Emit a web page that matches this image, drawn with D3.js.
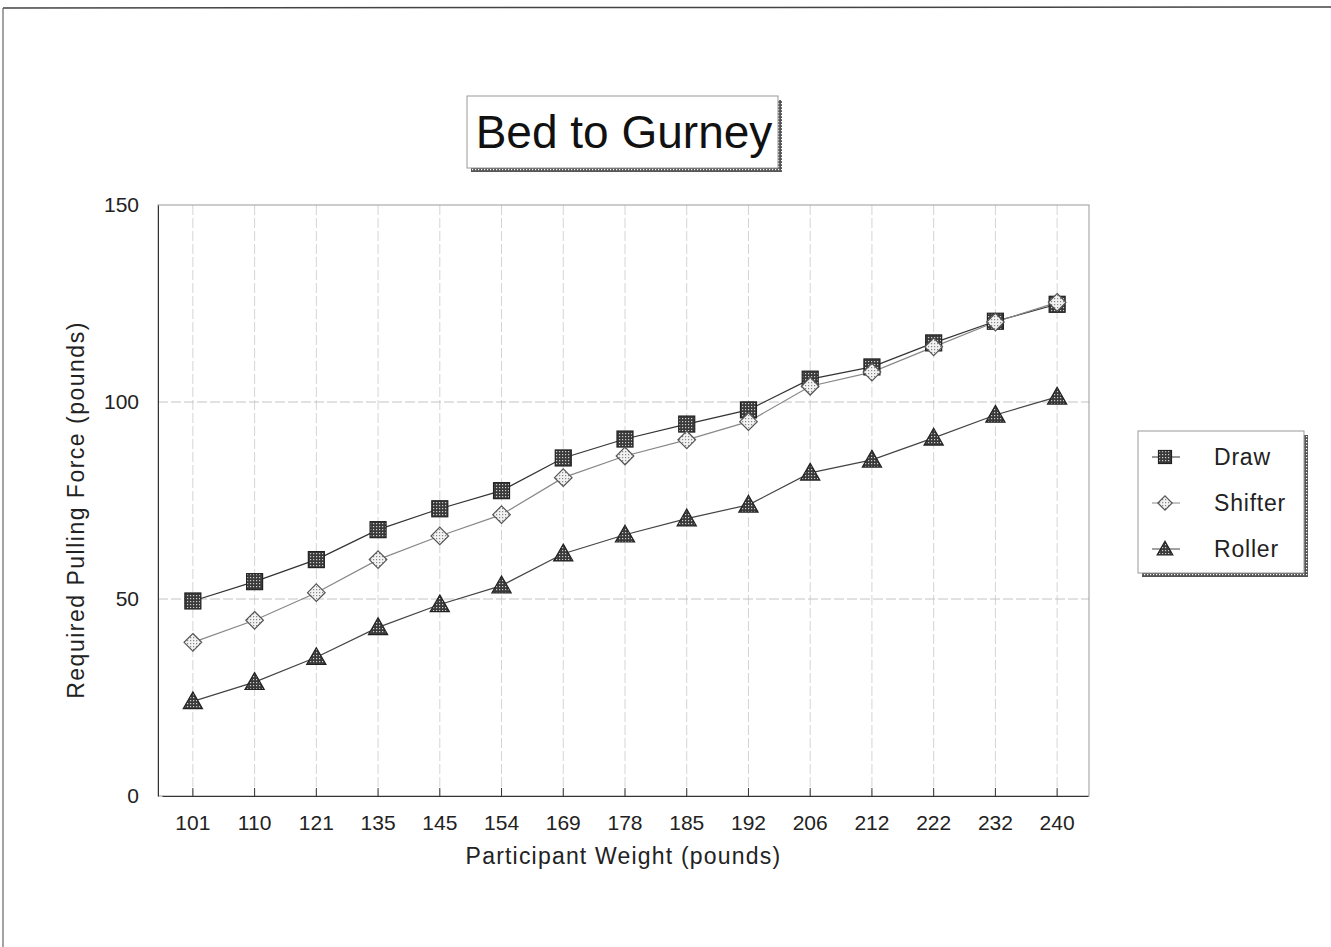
<!DOCTYPE html>
<html><head><meta charset="utf-8">
<script src="https://cdn.jsdelivr.net/npm/d3@7"></script>
<style>body{margin:0;background:#fff}svg{display:block}text{font-family:Arial,"Liberation Sans",sans-serif}</style>
</head><body>
<script>
const categories = ["101","110","121","135","145","154","169","178","185","192","206","212","222","232","240"];
const draw    = [49.5,54.4,60,67.6,72.9,77.5,85.8,90.6,94.4,98,105.8,108.9,115,120.5,124.8];
const shifter = [39,44.6,51.6,60,66,71.4,80.8,86.3,90.4,95,104,107.6,114,120.3,125.3];
const roller  = [24,28.9,35.2,42.8,48.6,53.4,61.5,66.3,70.4,73.9,82,85.3,90.9,96.7,101.3];
const yTicks = [0,50,100,150];
const seriesNames = ["Draw","Shifter","Roller"];

const W=1331,H=947;
const svg=d3.select("body").append("svg").attr("width",W).attr("height",H);
const defs=svg.append("defs");
function dotPattern(id,bg,dot){
  const p=defs.append("pattern").attr("id",id).attr("width",3).attr("height",3).attr("patternUnits","userSpaceOnUse");
  p.append("rect").attr("width",3).attr("height",3).attr("fill",bg);
  p.append("rect").attr("x",1).attr("y",1).attr("width",1.2).attr("height",1.2).attr("fill",dot);
}
dotPattern("pDark","#3a3a3a","#cfcfcf");
dotPattern("pLight","#f2f2f2","#888");
dotPattern("pShadow","#555","#fff");

// page frame
svg.append("line").attr("x1",3).attr("y1",8).attr("x2",W).attr("y2",7).attr("stroke","#444").attr("stroke-width",1.5);
svg.append("line").attr("x1",3).attr("y1",8).attr("x2",3).attr("y2",H).attr("stroke","#666").attr("stroke-width",1.2);

const L=158,R=1089,T=205,B=796;
const x=d3.scaleBand().domain(categories).range([L+4,R-1]);
const y=d3.scaleLinear().domain([0,150]).range([B,T]);
const cx=d=>x(d)+x.bandwidth()/2;

// gridlines
svg.append("g").selectAll("line").data(categories).join("line")
  .attr("x1",cx).attr("x2",cx).attr("y1",T).attr("y2",B)
  .attr("stroke","#d4d4d4").attr("stroke-width",1).attr("stroke-dasharray","10,3");
svg.append("g").selectAll("line").data(yTicks.filter(v=>v>0&&v<150)).join("line")
  .attr("x1",L).attr("x2",R).attr("y1",d=>y(d)).attr("y2",d=>y(d))
  .attr("stroke","#c4c4c4").attr("stroke-width",1).attr("stroke-dasharray","10,3");

// plot border
svg.append("rect").attr("x",L).attr("y",T).attr("width",R-L).attr("height",B-T)
  .attr("fill","none").attr("stroke","#999").attr("stroke-width",1);

// axes
const xAxis=svg.append("g").attr("transform",`translate(0,${B})`)
  .call(d3.axisBottom(x).tickSizeInner(-8).tickSizeOuter(0).tickPadding(22));
xAxis.select(".domain").attr("stroke","#333");
xAxis.selectAll(".tick line").attr("stroke","#333");
xAxis.selectAll("text").attr("font-size",21).attr("fill","#222").attr("dy","0.55em");
const yAxis=svg.append("g").attr("transform",`translate(${L},0)`)
  .call(d3.axisLeft(y).tickValues(yTicks).tickSize(0).tickPadding(19));
yAxis.select(".domain").attr("stroke","#333");
yAxis.selectAll("text").attr("font-size",21).attr("fill","#222");

// series
const data=[draw,shifter,roller];
const line=d3.line().x((d,i)=>cx(categories[i])).y(d=>y(d));
const lineCol=["#333","#888","#444"];
data.forEach((s,k)=>{
  svg.append("path").datum(s).attr("d",line).attr("fill","none").attr("stroke",lineCol[k]).attr("stroke-width",1.2);
});
function marker(g,k,px,py,sz){
  if(k===0){
    g.append("rect").attr("x",px-sz/2).attr("y",py-sz/2).attr("width",sz).attr("height",sz)
      .attr("fill","url(#pDark)").attr("stroke","#222").attr("stroke-width",1.2);
  } else if(k===1){
    const r=sz*0.55;
    g.append("path").attr("d",`M${px},${py-r}L${px+r},${py}L${px},${py+r}L${px-r},${py}Z`)
      .attr("fill","url(#pLight)").attr("stroke","#555").attr("stroke-width",1.2);
  } else {
    const r=sz*0.6;
    g.append("path").attr("d",`M${px},${py-r}L${px+r},${py+r*0.75}L${px-r},${py+r*0.75}Z`)
      .attr("fill","url(#pDark)").attr("stroke","#222").attr("stroke-width",1.2);
  }
}
[2,0,1].forEach(k=>{
  const g=svg.append("g");
  data[k].forEach((v,i)=>marker(g,k,cx(categories[i]),y(v),16));
});

// axis titles
svg.append("text").attr("x",(L+R)/2).attr("y",864).attr("text-anchor","middle")
  .attr("font-size",23).attr("letter-spacing",1.2).attr("fill","#222").text("Participant Weight (pounds)");
svg.append("text").attr("transform",`translate(84,510) rotate(-90)`).attr("text-anchor","middle")
  .attr("font-size",23).attr("letter-spacing",1.5).attr("fill","#222").text("Required Pulling Force (pounds)");

// title box
svg.append("rect").attr("x",471).attr("y",100).attr("width",311).attr("height",72).attr("fill","url(#pShadow)");
svg.append("rect").attr("x",467).attr("y",96).attr("width",311).attr("height",72).attr("fill","#fff").attr("stroke","#999").attr("stroke-width",1);
svg.append("text").attr("x",624).attr("y",148).attr("text-anchor","middle").attr("font-size",46).attr("fill","#111").text("Bed to Gurney");

// legend
svg.append("rect").attr("x",1142).attr("y",435).attr("width",166).attr("height",142).attr("fill","url(#pShadow)");
svg.append("rect").attr("x",1138).attr("y",431).attr("width",166).attr("height",142).attr("fill","#fff").attr("stroke","#999").attr("stroke-width",1);
seriesNames.forEach((n,k)=>{
  const ly=457+k*46;
  const g=svg.append("g");
  g.append("line").attr("x1",1152).attr("x2",1180).attr("y1",ly).attr("y2",ly).attr("stroke",lineCol[k]).attr("stroke-width",1);
  marker(g,k,1165,ly,13);
  g.append("text").attr("x",1214).attr("y",ly+8).attr("font-size",23).attr("letter-spacing",0.8).attr("fill","#222").text(n);
});
</script>
</body></html>
